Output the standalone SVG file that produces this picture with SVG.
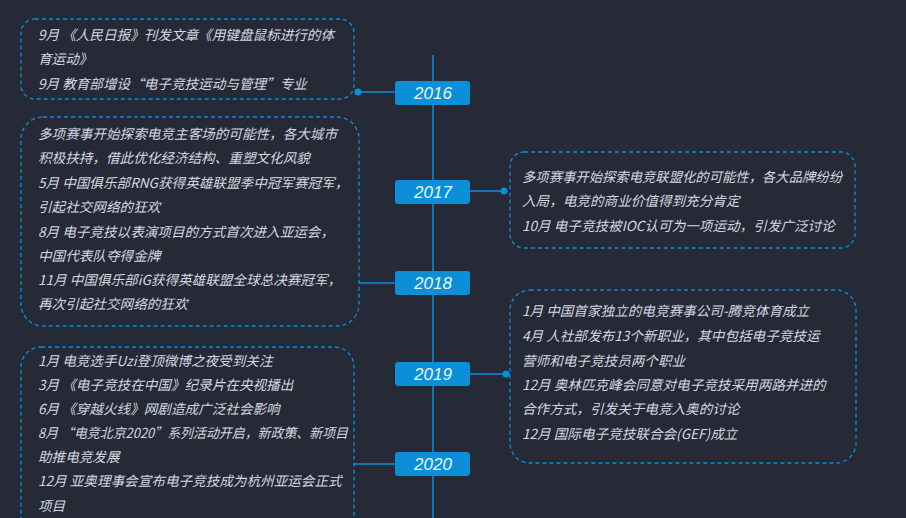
<svg xmlns="http://www.w3.org/2000/svg" width="906" height="518" viewBox="0 0 906 518">
<style>
.box{fill:#252a36;stroke:#0a8fd8;stroke-width:1.3;stroke-dasharray:4 3}
.yr{fill:#0a8fd8}
.yt{fill:#f0f4f8;font-family:"Liberation Sans",sans-serif;font-style:italic;font-size:17px;text-anchor:middle}
.t{fill:#d4d8e0;font-family:"Noto Sans CJK SC",sans-serif;font-style:italic;font-size:13.6px}
.c{stroke:#0a8fd8;stroke-width:1.5;fill:none}
.d{fill:#0a8fd8}
</style>
<rect width="906" height="518" fill="#252a36"/>
<g id="connectors">
<line class="c" x1="433" y1="55" x2="433" y2="518"/>
<line class="c" x1="356" y1="92" x2="395" y2="92"/><circle class="d" cx="358" cy="92" r="3.5"/>
<line class="c" x1="470" y1="191" x2="506" y2="191"/><circle class="d" cx="504" cy="191" r="3.5"/>
<line class="c" x1="359" y1="283" x2="395" y2="283"/>
<line class="c" x1="470" y1="374" x2="510" y2="374"/><circle class="d" cx="506" cy="374" r="3.5"/>
<line class="c" x1="354" y1="464" x2="395" y2="464"/>
</g>
<g id="y2016"><rect class="yr" x="395" y="81" width="75" height="24" rx="3"/><text class="yt" x="433" y="99">2016</text></g>
<g id="y2017"><rect class="yr" x="395" y="180" width="75" height="24" rx="3"/><text class="yt" x="433" y="198">2017</text></g>
<g id="y2018"><rect class="yr" x="395" y="271" width="75" height="24" rx="3"/><text class="yt" x="433" y="289">2018</text></g>
<g id="y2019"><rect class="yr" x="395" y="362" width="75" height="24" rx="3"/><text class="yt" x="433" y="380">2019</text></g>
<g id="y2020"><rect class="yr" x="395" y="452" width="75" height="24" rx="3"/><text class="yt" x="433" y="470">2020</text></g>
<g id="n2016"><rect class="box" x="21" y="19" width="333" height="80" rx="14"/>
<text class="t" x="38" y="40">9月 《人民日报》刊发文章《用键盘鼠标进行的体</text>
<text class="t" x="38" y="64">育运动》</text>
<text class="t" x="38" y="89">9月 教育部增设“电子竞技运动与管理”专业</text></g>
<g id="n2018"><rect class="box" x="21" y="117" width="338" height="209" rx="22"/>
<text class="t" x="38" y="139">多项赛事开始探索电竞主客场的可能性，各大城市</text>
<text class="t" x="38" y="163">积极扶持，借此优化经济结构、重塑文化风貌</text>
<text class="t" x="38" y="188">5月 中国俱乐部RNG获得英雄联盟季中冠军赛冠军，</text>
<text class="t" x="38" y="212">引起社交网络的狂欢</text>
<text class="t" x="38" y="237">8月 电子竞技以表演项目的方式首次进入亚运会，</text>
<text class="t" x="38" y="261">中国代表队夺得金牌</text>
<text class="t" x="38" y="285">11月 中国俱乐部iG获得英雄联盟全球总决赛冠军，</text>
<text class="t" x="38" y="309">再次引起社交网络的狂欢</text></g>
<g id="n2017"><rect class="box" x="510" y="152" width="345" height="96" rx="14"/>
<text class="t" x="522" y="182" textLength="320" lengthAdjust="spacingAndGlyphs">多项赛事开始探索电竞联盟化的可能性，各大品牌纷纷</text>
<text class="t" x="522" y="206">入局，电竞的商业价值得到充分肯定</text>
<text class="t" x="522" y="231">10月 电子竞技被IOC认可为一项运动，引发广泛讨论</text></g>
<g id="n2019"><rect class="box" x="510" y="290" width="346" height="173" rx="20"/>
<text class="t" x="522" y="316">1月 中国首家独立的电竞赛事公司-腾竞体育成立</text>
<text class="t" x="522" y="341">4月 人社部发布13个新职业，其中包括电子竞技运</text>
<text class="t" x="522" y="366">营师和电子竞技员两个职业</text>
<text class="t" x="522" y="390">12月 奥林匹克峰会同意对电子竞技采用两路并进的</text>
<text class="t" x="522" y="414">合作方式，引发关于电竞入奥的讨论</text>
<text class="t" x="522" y="439">12月 国际电子竞技联合会(GEF)成立</text></g>
<g id="n2020"><rect class="box" x="21" y="347" width="333" height="190" rx="20"/>
<text class="t" x="38" y="366">1月 电竞选手Uzi登顶微博之夜受到关注</text>
<text class="t" x="38" y="390">3月 《电子竞技在中国》纪录片在央视播出</text>
<text class="t" x="38" y="414">6月 《穿越火线》网剧造成广泛社会影响</text>
<text class="t" x="38" y="438" textLength="310" lengthAdjust="spacingAndGlyphs">8月 “电竞北京2020”系列活动开启，新政策、新项目</text>
<text class="t" x="38" y="462">助推电竞发展</text>
<text class="t" x="38" y="486">12月 亚奥理事会宣布电子竞技成为杭州亚运会正式</text>
<text class="t" x="38" y="511">项目</text></g>
</svg>
